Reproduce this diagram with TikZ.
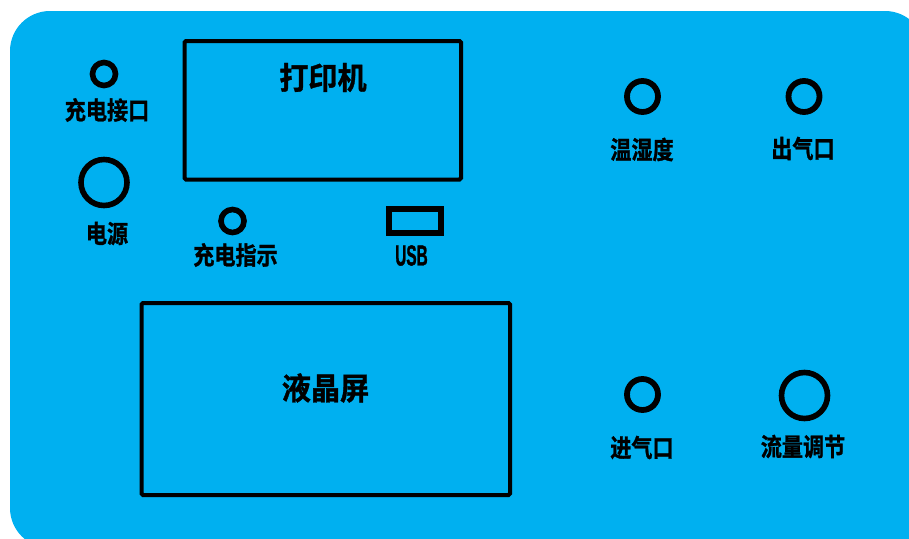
\documentclass[tikz,border=0pt]{standalone}
\usepackage{fontspec}
\setmainfont{Noto Sans CJK SC}[BoldFont={* Bold}]
\newfontfamily\cjk{Noto Sans CJK SC Bold}[FakeBold=1.2]
\newfontfamily\latincond{Liberation Sans Bold}[FakeBold=1.5]
\definecolor{panelblue}{HTML}{00B0F0}
\tikzset{
  x=1pt,y=-1pt,
  panel/.style={fill=panelblue,draw=none},
  framebox/.style={draw=black,line width=4pt,rounded corners=1.5pt,fill=none},
  port/.style={circle,draw=black,fill=none,inner sep=0pt,outer sep=0pt},
  portS/.style={port,line width=5.6pt,minimum size=23pt},
  portM/.style={port,line width=5.8pt,minimum size=31pt},
  portL/.style={port,line width=5.6pt,minimum size=46pt},
  usbport/.style={draw=black,line width=6pt,fill=none},
  lab/.style={font=\cjk\fontsize{24}{24}\selectfont,text=black,inner sep=0pt,xscale=.88,yscale=1.04},
  labbig/.style={font=\cjk\fontsize{30}{30}\selectfont,text=black,inner sep=0pt,xscale=.97,yscale=1.03},
  lablatin/.style={font=\latincond\fontsize{29}{29}\selectfont,text=black,inner sep=0pt,xscale=.53},
}
\begin{document}
\begin{tikzpicture}
\useasboundingbox (0,0) rectangle (909,538);
\clip (0,0) rectangle (909,538);
\fill[panel] (10,11) [rounded corners=40pt] -- (10,548) -- (925,548) -- (925,11) -- cycle;
\draw[framebox] (184.5,41) rectangle (461,179.5);
\draw[framebox] (141.5,303) rectangle (510,495);
\node[labbig] (printer) at (323,77.5) {打印机};
\node[labbig] (lcd) at (325.5,388) {液晶屏};
\node[portS] (chargeport) at (104,74) {};
\node[lab] (chargeportlab) at (107,110) {充电接口};
\node[portL] (power) at (104,182.5) {};
\node[lab] (powerlab) at (107,233.5) {电源};
\node[portS] (chargeled) at (232.5,221) {};
\node[lab] (chargeledlab) at (235.5,255) {充电指示};
\draw[usbport] (388.5,208.7) rectangle (440.5,233.3);
\node[lablatin] (usblab) at (411.5,255.5) {USB};
\node[portM] (humid) at (642.5,96.5) {};
\node[lab] (humidlab) at (642,149.5) {温湿度};
\node[portM] (outlet) at (804,96.5) {};
\node[lab] (outletlab) at (803,148.5) {出气口};
\node[portM] (inlet) at (642.5,394.5) {};
\node[lab] (inletlab) at (642,447.5) {进气口};
\node[portL] (flow) at (804.5,395.5) {};
\node[lab] (flowlab) at (803,446.5) {流量调节};
\end{tikzpicture}
\end{document}
